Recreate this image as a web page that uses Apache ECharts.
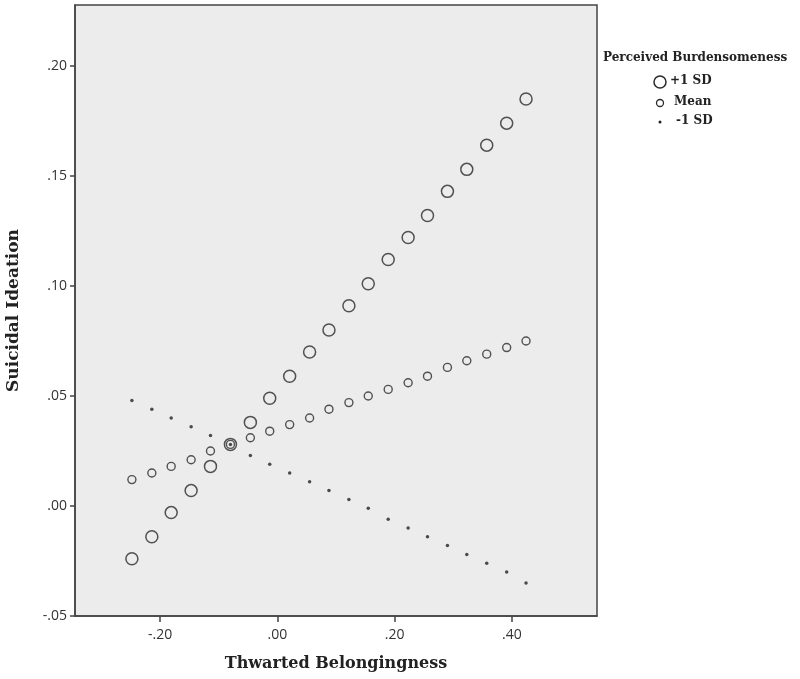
<!DOCTYPE html>
<html><head><meta charset="utf-8">
<script src="https://cdn.jsdelivr.net/npm/echarts@6/dist/echarts.min.js"></script>
<style>html,body{margin:0;padding:0;background:#fff}#c{width:800px;height:679px}</style>
</head><body><div id="c"></div>
<script>
const xValues = [-0.248, -0.214, -0.181, -0.147, -0.114, -0.080, -0.046, -0.013, 0.021, 0.055, 0.088, 0.122, 0.155, 0.189, 0.223, 0.256, 0.290, 0.323, 0.357, 0.391, 0.424];
const plus1SD = [-0.024, -0.014, -0.003, 0.007, 0.018, 0.028, 0.038, 0.049, 0.059, 0.070, 0.080, 0.091, 0.101, 0.112, 0.122, 0.132, 0.143, 0.153, 0.164, 0.174, 0.185];
const meanSD = [0.012, 0.015, 0.018, 0.021, 0.025, 0.028, 0.031, 0.034, 0.037, 0.040, 0.044, 0.047, 0.050, 0.053, 0.056, 0.059, 0.063, 0.066, 0.069, 0.072, 0.075];
const minus1SD = [0.048, 0.044, 0.040, 0.036, 0.032, 0.028, 0.023, 0.019, 0.015, 0.011, 0.007, 0.003, -0.001, -0.006, -0.010, -0.014, -0.018, -0.022, -0.026, -0.030, -0.035];
const xTicks = [-0.2, 0, 0.2, 0.4];
const yTicks = [-0.05, 0, 0.05, 0.10, 0.15, 0.20];
const seriesNames = ['+1 SD', 'Mean', '-1 SD'];
const legendTitle = 'Perceived Burdensomeness';
const xTitle = 'Thwarted Belongingness';
const yTitle = 'Suicidal Ideation';

const fmt = v => v.toFixed(2).replace('0.', '.');
const pair = ys => xValues.map((x, i) => [x, ys[i]]);
const serif = '"DejaVu Serif", "Liberation Serif", serif';

const chart = echarts.init(document.getElementById('c'));
chart.setOption({
  animation: false,
  backgroundColor: '#fff',
  grid: { left: 75, top: 5, right: 203, bottom: 63, show: true, backgroundColor: '#ececec', borderColor: '#444', borderWidth: 1.5, outerBoundsMode: 'none', containLabel: false },
  xAxis: {
    type: 'value', min: -0.345, max: 0.545,
    name: xTitle, nameLocation: 'middle', nameGap: 40,
    nameTextStyle: { fontFamily: serif, fontWeight: 'bold', fontSize: 16, color: '#222' },
    axisLine: { show: true, onZero: false, lineStyle: { color: '#444', width: 1.5 } },
    axisTick: { show: true, length: 6, customValues: xTicks, lineStyle: { color: '#444', width: 1.5 } },
    axisLabel: { customValues: xTicks, formatter: fmt, color: '#333', fontSize: 14, fontFamily: '"Open Sans", sans-serif', margin: 12 },
    splitLine: { show: false }
  },
  yAxis: {
    type: 'value', min: -0.05, max: 0.2277,
    name: yTitle, nameLocation: 'middle', nameGap: 53, nameRotate: 90,
    nameTextStyle: { fontFamily: serif, fontWeight: 'bold', fontSize: 17, color: '#222' },
    axisLine: { show: true, onZero: false, lineStyle: { color: '#444', width: 1.5 } },
    axisTick: { show: true, length: 5, customValues: yTicks, lineStyle: { color: '#444', width: 1.5 } },
    axisLabel: { customValues: yTicks, formatter: fmt, color: '#333', fontSize: 14, fontFamily: '"Open Sans", sans-serif', margin: 8 },
    splitLine: { show: false }
  },
  series: [
    { name: seriesNames[0], type: 'scatter', data: pair(plus1SD), symbol: 'circle', symbolSize: 12,
      itemStyle: { color: 'rgba(0,0,0,0)', borderColor: '#2a2a2a', borderWidth: 1.5 } },
    { name: seriesNames[1], type: 'scatter', data: pair(meanSD), symbol: 'circle', symbolSize: 8,
      itemStyle: { color: 'rgba(0,0,0,0)', borderColor: '#2a2a2a', borderWidth: 1.4 } },
    { name: seriesNames[2], type: 'scatter', data: pair(minus1SD), symbol: 'circle', symbolSize: 3.5,
      itemStyle: { color: '#222' } }
  ],
  graphic: [
    { type: 'text', left: 603, top: 52, style: { text: legendTitle, font: 'bold 12px ' + serif, fill: '#222' } },
    { type: 'circle', shape: { cx: 660, cy: 82, r: 6 }, style: { fill: 'none', stroke: '#2a2a2a', lineWidth: 1.5 } },
    { type: 'text', left: 670, top: 75, style: { text: seriesNames[0], font: 'bold 12px ' + serif, fill: '#222' } },
    { type: 'circle', shape: { cx: 660, cy: 103, r: 3.5 }, style: { fill: 'none', stroke: '#2a2a2a', lineWidth: 1.3 } },
    { type: 'text', left: 674, top: 96, style: { text: seriesNames[1], font: 'bold 12px ' + serif, fill: '#222' } },
    { type: 'circle', shape: { cx: 660, cy: 122, r: 1.5 }, style: { fill: '#222' } },
    { type: 'text', left: 676, top: 115, style: { text: seriesNames[2], font: 'bold 12px ' + serif, fill: '#222' } }
  ]
});
</script></body></html>
